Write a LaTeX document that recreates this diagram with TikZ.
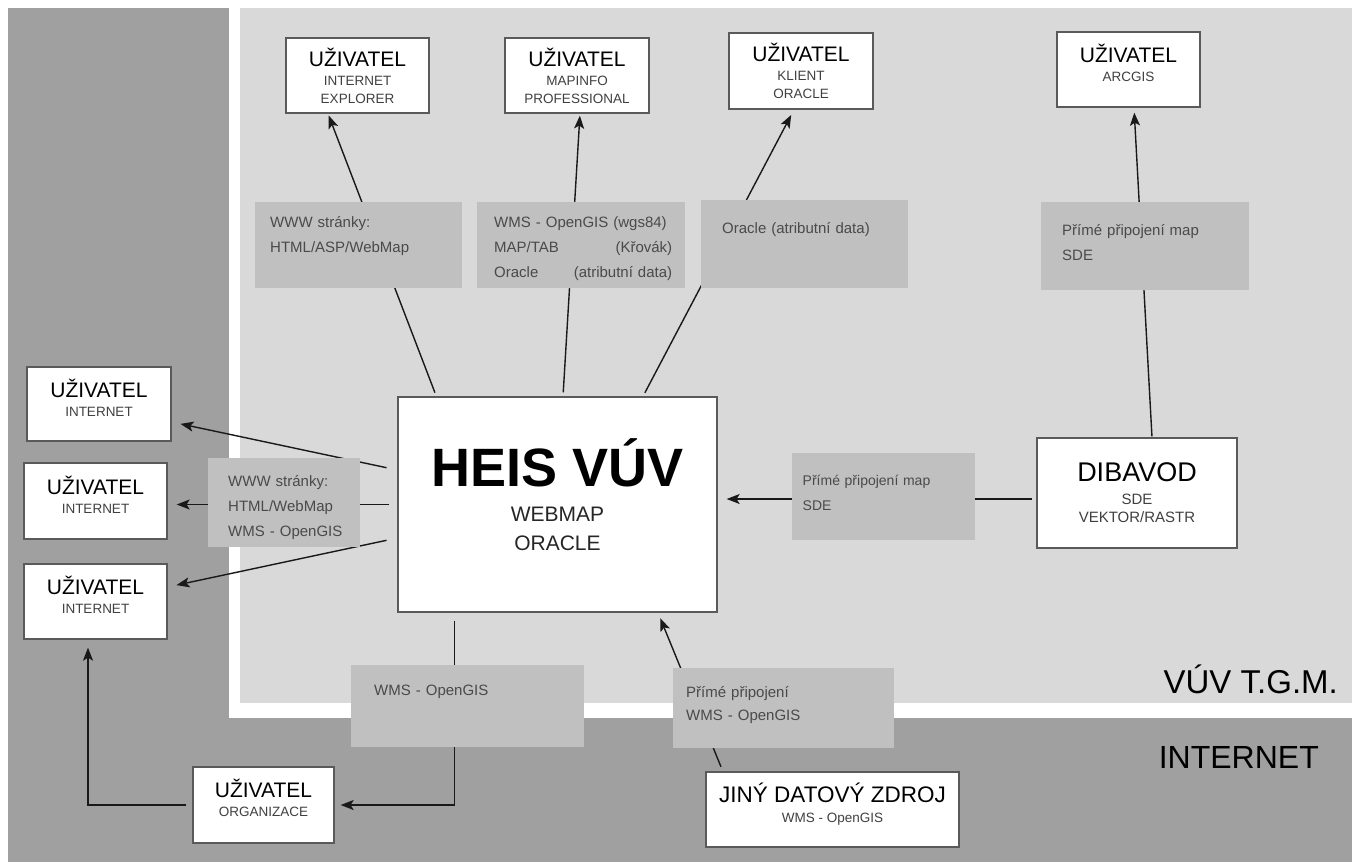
\documentclass[tikz,border=0pt]{standalone}
\usepackage{fontspec}
\setmainfont{Liberation Sans}
\usetikzlibrary{arrows.meta,backgrounds}
\definecolor{inetgray}{HTML}{A0A0A0}
\definecolor{vuvgray}{HTML}{D9D9D9}
\definecolor{lblgray}{HTML}{C0C0C0}
\definecolor{boxline}{HTML}{5A5A5A}
\definecolor{lbltext}{HTML}{4A4A4A}
\newcommand{\hd}[1]{{\fontsize{21}{22}\selectfont\color{black}#1}}
\newcommand{\lift}[1][13pt]{\rule[-#1]{0pt}{1pt}}
\newcommand{\lbltxt}[2]{\hspace*{#1}\begin{tabular}[t]{@{}l@{}}#2\end{tabular}}

\begin{document}
\begin{tikzpicture}[x=1pt,y=-1pt,
  usr/.style={draw=boxline,line width=1.3pt,fill=white,align=center,inner sep=0pt,
    minimum width=143pt,minimum height=75pt,font=\fontsize{13.5}{18}\selectfont,text=black!75},
  lbl/.style={fill=lblgray,anchor=north west,inner sep=0pt,align=left,
    font=\fontsize{15}{25}\selectfont,text=lbltext},
  arr/.style={-{Stealth[length=13pt,width=10pt,inset=3pt]},line width=1.4pt,black!90}
]
\useasboundingbox (0,0) rectangle (1354,862);

% users inside the institute
\node[usr] (ie) at (357.5,75.5) {\hd{UŽIVATEL}\\[1pt]INTERNET\\EXPLORER};
\node[usr,minimum width=144pt] (mi) at (577,75.5) {\hd{UŽIVATEL}\\[1pt]MAPINFO\\PROFESSIONAL};
\node[usr,minimum width=144pt,minimum height=76pt] (ko) at (801,71) {\hd{UŽIVATEL}\\[1pt]KLIENT\\ORACLE};
\node[usr] (arc) at (1128.5,69.5) {\hd{UŽIVATEL}\\[1pt]ARCGIS\lift};

% servers
\node[usr,minimum width=319pt,minimum height=215pt,font=\fontsize{21}{29}\selectfont,text=black!85] (heis) at (557.5,504.5)
  {{\fontsize{54}{56}\selectfont\bfseries\color{black}HEIS VÚV}\\[6pt]WEBMAP\\ORACLE\lift[19pt]};
\node[usr,minimum width=200pt,minimum height=110pt,font=\fontsize{15}{18}\selectfont] (dib) at (1137,493)
  {{\fontsize{27}{28}\selectfont\color{black}DIBAVOD}\\[5pt]SDE\\VEKTOR/RASTR};

% users on the internet
\node[usr,minimum width=144pt,minimum height=74pt] (ui1) at (99,404) {\hd{UŽIVATEL}\\[1pt]INTERNET\lift};
\node[usr,minimum height=76pt] (ui2) at (95.5,501) {\hd{UŽIVATEL}\\[1pt]INTERNET\lift};
\node[usr] (ui3) at (95.5,601.5) {\hd{UŽIVATEL}\\[1pt]INTERNET\lift};
\node[usr,minimum width=141pt,minimum height=76pt] (org) at (263.5,805) {\hd{UŽIVATEL}\\[1pt]ORGANIZACE\lift[14pt]};
\node[usr,minimum width=253pt] (jiny) at (832.5,809.5)
  {{\fontsize{22.5}{24}\selectfont\color{black}JINÝ DATOVÝ ZDROJ}\\[2pt]WMS - OpenGIS\lift[14pt]};

% connection labels
\node[lbl,text width=207pt,text height=25pt,text depth=61pt] (lweb) at (255,202)
  {\lbltxt{15pt}{WWW stránky:\\HTML/ASP/WebMap}};
\node[lbl,text width=208pt,text height=25pt,text depth=61pt] (lwms) at (477,202)
  {\lbltxt{17pt}{WMS - OpenGIS (wgs84)\\\makebox[178pt][l]{MAP/TAB\hfill(Křovák)}\\\makebox[178pt][l]{Oracle\hfill(atributní data)}}};
\node[lbl,text width=207pt,text height=33pt,text depth=55pt] (lora) at (701,200)
  {\lbltxt{21pt}{Oracle (atributní data)}};
\node[lbl,text width=208pt,text height=33pt,text depth=55pt] (lsde) at (1041,202)
  {\lbltxt{21pt}{Přímé připojení map\\SDE}};
\node[lbl,text width=183pt,text height=32pt,text depth=55pt,font=\fontsize{14}{25}\selectfont] (lsdb) at (792,453)
  {\lbltxt{10.5pt}{Přímé připojení map\\SDE}};
\node[lbl,text width=152pt,text height=28pt,text depth=61pt] (lnet) at (208,458)
  {\lbltxt{20pt}{WWW stránky:\\HTML/WebMap\\WMS - OpenGIS}};
\node[lbl,text width=233pt,text height=30pt,text depth=52pt] (lorg) at (351,665)
  {\lbltxt{23pt}{WMS - OpenGIS}};
\node[lbl,text width=221pt,text height=29pt,text depth=51pt,font=\fontsize{15}{23}\selectfont] (ljiny) at (673,668)
  {\lbltxt{13pt}{Přímé připojení\\WMS - OpenGIS}};

% zone names
\node[anchor=base east,inner sep=0pt,font=\fontsize{33}{36}\selectfont] (vuv) at (1338,693) {VÚV T.G.M.};
\node[anchor=base east,inner sep=0pt,font=\fontsize{32}{36}\selectfont] (inet) at (1319,768) {INTERNET};

\begin{scope}[on background layer]
\fill[inetgray] (8,8) rectangle (1352,862);
\fill[white] (229,8) rectangle (1352,718);
\fill[vuvgray] (240,8) rectangle (1352,703);
\draw[arr,shorten >=2pt,shorten <=4pt] ([xshift=39pt]heis.north west) -- ([xshift=-29.5pt]ie.south);
\draw[arr,shorten >=2pt,shorten <=4pt] ([xshift=5.5pt]heis.north) -- ([xshift=3pt]mi.south);
\draw[arr,shorten >=6pt,shorten <=4pt] ([xshift=85.5pt]heis.north) -- ([xshift=-7pt]ko.south);
\draw[arr,shorten >=5pt,shorten <=1pt] ([xshift=15pt]dib.north) -- ([xshift=5.5pt]arc.south);
\draw[arr,shorten >=9pt,shorten <=4pt] ([yshift=-6pt]dib.west) -- ([yshift=-6pt]dib.west -| heis.east);
\draw[arr,shorten >=9pt,shorten <=11pt] ([yshift=34.5pt]heis.west) -- ([yshift=-18pt]ui1.east);
\draw[arr,shorten >=9pt,shorten <=8pt] (heis.west) -- (heis.west -| ui2.east);
\draw[arr,shorten >=9pt,shorten <=11pt] ([yshift=-33.5pt]heis.west) -- ([yshift=14.5pt]ui3.east);
\draw[arr,shorten >=6pt,shorten <=8pt] ([xshift=57pt]heis.south west) |- (org.east);
\draw[arr,shorten >=6pt,shorten <=5pt] ([xshift=17.5pt]jiny.north west) -- ([xshift=100.5pt]heis.south);
\draw[arr,shorten >=8pt,shorten <=6pt] (org.west) -| ([xshift=-7.5pt]ui3.south);
\end{scope}
\end{tikzpicture}
\end{document}
